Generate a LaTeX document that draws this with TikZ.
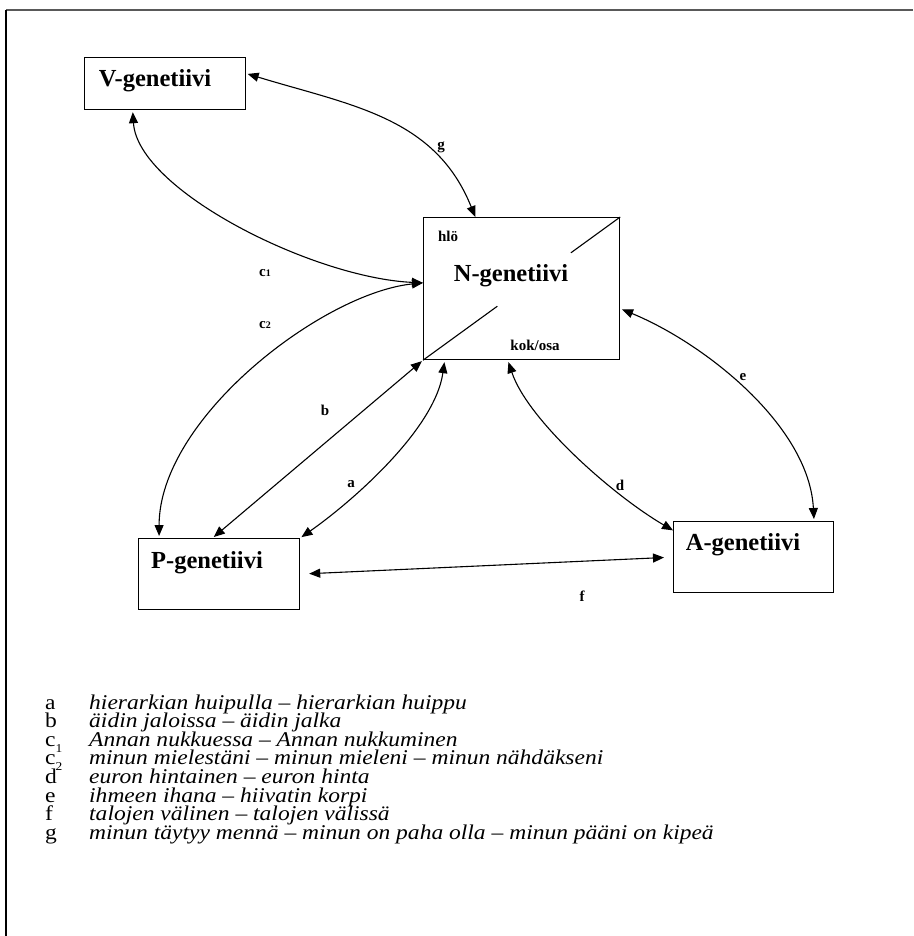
\documentclass[tikz,border=0pt]{standalone}
\usepackage{fontspec}
\setmainfont{Liberation Serif}
\newfontfamily\legfont[FakeStretch=1.12]{Liberation Serif}
\usetikzlibrary{arrows.meta,calc}
\begin{document}
\begin{tikzpicture}[x=1pt,y=-1pt,
  box/.style={draw, line width=1.2pt, inner sep=0pt, anchor=north west},
  boxlbl/.style={font={\fontsize{24.5}{26}\selectfont\bfseries}, inner sep=0pt},
  lbl/.style={font={\fontsize{15}{16}\selectfont\bfseries}, inner sep=0pt},
  dbl/.style={{Triangle[length=11pt,width=9pt]}-{Triangle[length=11pt,width=9pt]}, line width=1.1pt},
  legl/.style={font={\legfont\fontsize{21}{21}\selectfont}, anchor=base west, inner sep=0pt},
  legt/.style={font={\legfont\fontsize{21}{21}\selectfont\itshape}, anchor=base west, inner sep=0pt}]
\useasboundingbox (0,0) rectangle (913,936);
% frame
\draw[line width=1.6pt, black!65] (6,10) -- (913,10);
\draw[line width=1.2pt] (6,10) -- (6,936);
% boxes
\node[box, minimum width=161pt, minimum height=52pt] (V) at (84,57) {};
\node[box, minimum width=196pt, minimum height=142pt] (N) at (423,217) {};
\node[box, minimum width=161pt, minimum height=71pt] (P) at (138,538) {};
\node[box, minimum width=160pt, minimum height=71pt] (A) at (673,521) {};
\node[boxlbl] (Vt) at (155,81) {V-genetiivi};
\node[boxlbl] (Nt) at (511,276) {N-genetiivi};
\node[boxlbl] (Pt) at (207,563) {P-genetiivi};
\node[boxlbl] (At) at (743,545) {A-genetiivi};
\node[lbl] (hlo) at (448,236) {hlö};
\node[lbl] (kok) at (535,345) {kok/osa};
% diagonal in N
\draw[line width=1.1pt] (N.north east) -- ($(N.north east)!0.25!(N.south west)$);
\draw[line width=1.1pt] (N.south west) -- ($(N.south west)!0.377!(N.north east)$);
% connectors
\draw[dbl, shorten <=1.5pt] ($(V.north east)!0.31!(V.south east)$) .. controls +(105,32) and +(-40,-100) .. ($(N.north west)!0.265!(N.north east)$);
\draw[dbl, shorten <=2pt] ($(V.south west)!0.30!(V.south east)$) .. controls +(5,80) and +(-110,-5) .. ($(N.north west)!0.46!(N.south west)$);
\draw[dbl, shorten >=2pt] ($(N.north west)!0.46!(N.south west)$) .. controls +(-100,10) and +(0,-120) .. ($(P.north west)!0.13!(P.north east)$);
\draw[dbl, shorten <=1.5pt, shorten >=1.5pt] (N.south west) -- ($(P.north west)!0.46!(P.north east)$);
\draw[dbl, shorten <=2pt, shorten >=1.5pt] ($(N.south west)!0.11!(N.south east)$) .. controls +(-10,70) and +(50,-35) .. (P.north east);
\draw[dbl, shorten <=2pt] ($(N.south west)!0.43!(N.south east)$) .. controls +(20,60) and +(-60,-35) .. ($(A.north west)!0.13!(A.south west)$);
\draw[dbl, shorten <=2pt, shorten >=2pt] ($(N.north east)!0.64!(N.south east)$) .. controls +(85,35) and +(-5,-95) .. ($(A.north west)!0.875!(A.north east)$);
\draw[dbl, shorten <=9pt, shorten >=9pt] (P.east) -- (A.west);
% connector labels
\node[lbl] (lg) at (441,147) {g};
\node[lbl] (lc1) at (265,273) {c{\fontsize{10}{10}\selectfont 1}};
\node[lbl] (lc2) at (265,325) {c{\fontsize{10}{10}\selectfont 2}};
\node[lbl] (lb) at (325,410) {b};
\node[lbl] (la) at (351,484) {a};
\node[lbl] (ld) at (620,485) {d};
\node[lbl] (le) at (743,377) {e};
\node[lbl] (lf) at (582,596) {f};
% legend
\node[legl] (ka) at (45,709) {a};
\node[legt] (ta) at (89,709) {hierarkian huipulla – hierarkian huippu};
\node[legl] (kb) at (45,727.6) {b};
\node[legt] (tb) at (89,727.6) {äidin jaloissa – äidin jalka};
\node[legl] (kc1) at (45,746.2) {c\raisebox{-6pt}{\fontsize{12}{12}\selectfont 1}};
\node[legt] (tc1) at (89,746.2) {Annan nukkuessa – Annan nukkuminen};
\node[legl] (kc2) at (45,764.8) {c\raisebox{-6pt}{\fontsize{12}{12}\selectfont 2}};
\node[legt] (tc2) at (89,764.8) {minun mielestäni – minun mieleni – minun nähdäkseni};
\node[legl] (kd) at (45,783.4) {d};
\node[legt] (td) at (89,783.4) {euron hintainen – euron hinta};
\node[legl] (ke) at (45,802) {e};
\node[legt] (te) at (89,802) {ihmeen ihana – hiivatin korpi};
\node[legl] (kf) at (45,820.6) {f};
\node[legt] (tf) at (89,820.6) {talojen välinen – talojen välissä};
\node[legl] (kg) at (45,839.2) {g};
\node[legt] (tg) at (89,839.2) {minun täytyy mennä – minun on paha olla – minun pääni on kipeä};
\end{tikzpicture}
\end{document}
